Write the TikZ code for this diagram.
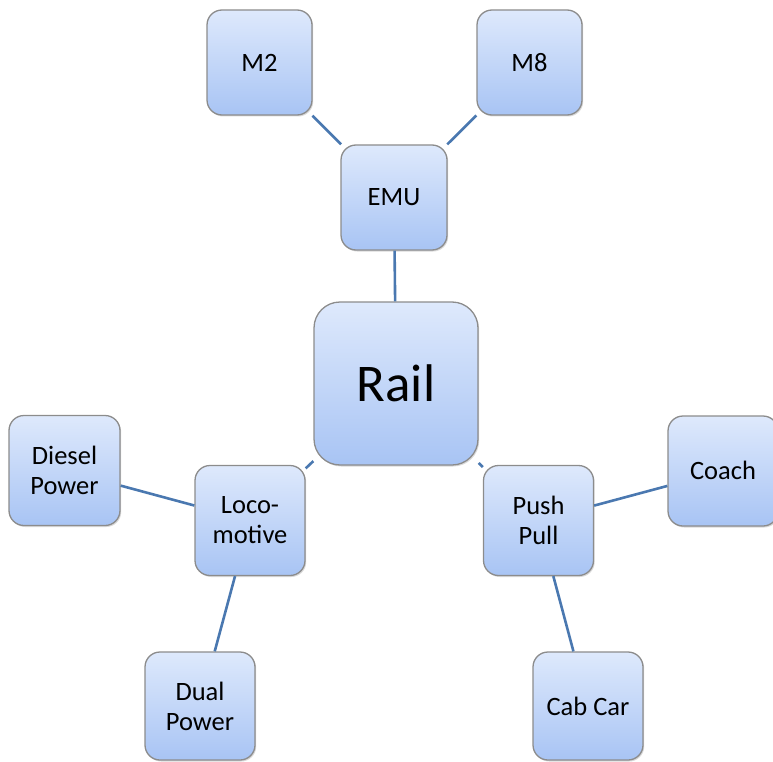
\documentclass[tikz,border=0pt]{standalone}
\usepackage{fontspec}
\setmainfont{Carlito}
\usetikzlibrary{shadows}
\definecolor{boxtop}{HTML}{DEE9FC}
\definecolor{boxbot}{HTML}{A8C4F4}
\definecolor{boxedge}{HTML}{8C8C8C}
\definecolor{linkblue}{HTML}{4A78B0}
\tikzset{
  box/.style={rectangle, rounded corners=15pt, draw=boxedge, line width=1.3pt,
    top color=boxtop, bottom color=boxbot, align=center, inner sep=2pt,
    font=\fontsize{26.5}{30}\selectfont,
    drop shadow={shadow xshift=1.2pt, shadow yshift=-1.5pt, opacity=0.25, fill=black!60}},
  leaf/.style={box, minimum width=105pt, minimum height=105pt},
  mid/.style={box, minimum width=110pt, minimum height=110pt},
  hub/.style={box, minimum width=164pt, minimum height=163pt, rounded corners=26pt,
    font=\fontsize{53}{60}\selectfont},
  link/.style={draw=linkblue, line width=2.6pt}
}
\begin{document}
\begin{tikzpicture}[x=1pt,y=-1pt]
\useasboundingbox (0,0) rectangle (773,762);
\node[hub] (rail) at (396,383.5) {Rail};
\node[box, minimum width=106pt, minimum height=105pt] (emu) at (394,197.5) {EMU};
\node[leaf] (m2) at (259.5,62.5) {M2};
\node[leaf] (m8) at (529.5,62.5) {M8};
\node[mid] (loco) at (250,520.5) {Loco-\\motive};
\node[mid, minimum width=111pt] (diesel) at (64.5,470.5) {Diesel\\Power};
\node[mid, minimum height=108pt] (dual) at (200,706) {Dual\\Power};
\node[mid] (push) at (538.5,520.5) {Push\\Pull};
\node[mid] (coach) at (723,471) {\raisebox{2pt}{Coach}};
\node[mid, minimum height=108pt] (cab) at (588,706) {Cab Car};
\draw[link] (m2) -- (emu);
\draw[link] (m8) -- (emu);
\draw[link] (emu) -- (rail);
\draw[link] (rail) -- (loco);
\draw[link] (rail) -- (push);
\draw[link] (diesel) -- (loco);
\draw[link] (loco) -- (dual);
\draw[link] (push) -- (coach);
\draw[link] (push) -- (cab);
\end{tikzpicture}
\end{document}
